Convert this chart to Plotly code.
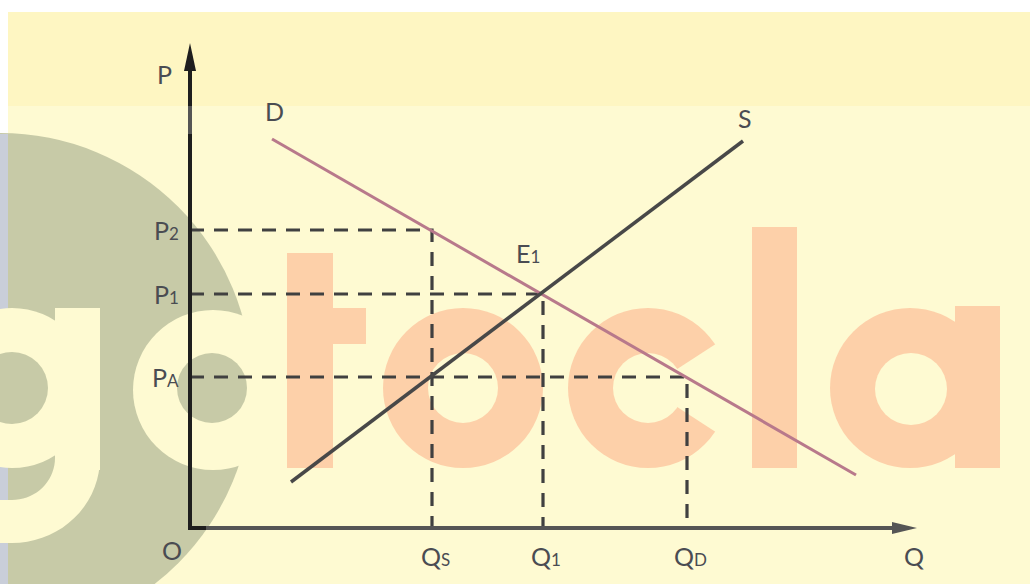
import math
import plotly.graph_objects as go

# ---------------- data (chart units: Q horizontal, P vertical) ----------------
price_labels = ["P<span style='font-size:17px'>2</span>",
                "P<span style='font-size:17px'>1</span>",
                "P<span style='font-size:17px'>A</span>"]
price_values = [29.8, 23.4, 15.1]
quantity_labels = ["Q<span style='font-size:17px'>S</span>",
                   "Q<span style='font-size:17px'>1</span>",
                   "Q<span style='font-size:17px'>D</span>"]
quantity_values = [24.2, 35.3, 49.7]
demand_q = [8.2, 66.6]
demand_p = [38.9, 5.3]
supply_q = [10.1, 55.3]
supply_p = [4.6, 38.7]
equilibrium_q = 35.3
equilibrium_p = 23.4

# ---------------- pixel <-> chart-unit helpers ----------------
W, H = 1030, 584
OX, OY, UNIT = 190, 528, 10.0


def qx(px):
    return (px - OX) / UNIT


def py(pyy):
    return (OY - pyy) / UNIT


FONT = "Lato, 'Open Sans', 'DejaVu Sans', sans-serif"
TXT = "#4a4c52"
CREAM = "#FEFAD2"
BAND = "#FEF6C2"
GRAYG = "#C7CAA7"
BLUEG = "#C9CED9"
ORANGE = "#FDD0A9"

shapes = []


def R(x0, y0, x1, y1, c, layer="below"):
    shapes.append(dict(type="rect", xref="x", yref="y", x0=qx(x0), x1=qx(x1),
                       y0=py(y1), y1=py(y0), fillcolor=c, line=dict(width=0), layer=layer))


def C(cx, cy, r, c):
    shapes.append(dict(type="circle", xref="x", yref="y", x0=qx(cx - r), x1=qx(cx + r),
                       y0=py(cy + r), y1=py(cy - r), fillcolor=c, line=dict(width=0), layer="below"))


def PATH(pts, c, layer="below"):
    p = "M " + " L ".join(f"{qx(a):.3f},{py(b):.3f}" for a, b in pts) + " Z"
    shapes.append(dict(type="path", xref="x", yref="y", path=p, fillcolor=c,
                       line=dict(width=0), layer=layer))


def LINE(x0, y0, x1, y1, c, w):
    shapes.append(dict(type="line", xref="x", yref="y", x0=qx(x0), y0=py(y0), x1=qx(x1), y1=py(y1),
                       line=dict(color=c, width=w), layer="above"))


# background panel + top band
R(8, 12, W, H, CREAM)
R(8, 12, W, 106, BAND)
# grey circle watermark
C(0, 385, 252, GRAYG)
R(0, 134, 8, H, BLUEG)
# "g" knocked out in cream
C(12, 388, 80, CREAM)
R(55, 308, 100, 470, CREAM)
desc = [(12 + 88 * math.cos(math.radians(t)), 458 + 85 * math.sin(math.radians(t))) for t in range(0, 91, 5)]
desc += [(-5, 543), (-5, 500)]
desc += [(12 + 43 * math.cos(math.radians(t)), 458 + 42 * math.sin(math.radians(t))) for t in range(90, -1, -5)]
PATH(desc, CREAM)
C(12, 388, 36, GRAYG)
# "o" knocked out in cream
C(213, 390, 80, CREAM)
C(212, 388, 35, GRAYG)
# orange "tocla"
R(287, 253, 333, 468, ORANGE)
R(333, 308, 366, 344, ORANGE)
C(463, 388, 80, ORANGE)
C(463, 388, 35, CREAM)
C(648, 388, 80, ORANGE)
C(648, 388, 35, CREAM)
a = math.radians(33)
PATH([(648, 388), (648 + 100 * math.cos(a), 388 - 100 * math.sin(a)), (748, 388),
      (648 + 100 * math.cos(a), 388 + 100 * math.sin(a))], CREAM)
R(752, 227, 797, 468, ORANGE)
C(910, 388, 80, ORANGE)
C(911, 389, 36, CREAM)
R(955, 306, 1000, 468, ORANGE)

# axes (decoration)
LINE(190, 530, 190, 68, "#555555", 4)
LINE(190, 530, 190, 134, "#1e1e1e", 4)
LINE(190, 106, 190, 68, "#1e1e1e", 4)
LINE(188, 528, 895, 528, "#555555", 4)
LINE(188, 528, 206, 528, "#1e1e1e", 4)
PATH([(190, 43), (196, 71), (184, 71)], "#1e1e1e", layer="above")
PATH([(917, 528), (892, 534), (892, 522)], "#555555", layer="above")

fig = go.Figure()

# guide lines (dashed)
for pv, qv in zip(price_values, quantity_values):
    fig.add_trace(go.Scatter(x=[0, qv, qv], y=[pv, pv, 0], mode="lines",
                             line=dict(color="#404040", width=3.2, dash="14px,10px"),
                             hoverinfo="skip", showlegend=False))
# demand and supply
fig.add_trace(go.Scatter(x=demand_q, y=demand_p, mode="lines",
                         line=dict(color="#B8798B", width=3), hoverinfo="skip", showlegend=False))
fig.add_trace(go.Scatter(x=supply_q, y=supply_p, mode="lines",
                         line=dict(color="#484848", width=3.5), hoverinfo="skip", showlegend=False))

ann = []


def T(text, x, y, xanchor="center", yanchor="middle", size=25, xshift=0, yshift=0):
    ann.append(dict(text=text, x=x, y=y, xref="x", yref="y", showarrow=False,
                    xanchor=xanchor, yanchor=yanchor, xshift=xshift, yshift=yshift,
                    font=dict(family=FONT, size=size, color=TXT)))


for lab, pv in zip(price_labels, price_values):
    T(lab, qx(181), pv, xanchor="right")
for lab, qv in zip(quantity_labels, quantity_values):
    T(lab, qv, py(556), xshift=3)
T("P", qx(164), py(74))
T("Q", qx(914), py(556))
T("O", qx(172), py(550))
T("D", demand_q[0] + 0.2, py(111))
T("S", supply_q[1] + 0.2, py(118))
T("E<span style='font-size:17px'>1</span>", equilibrium_q - 1.5, py(253))

fig.update_layout(
    width=W, height=H, margin=dict(l=0, r=0, t=0, b=0),
    paper_bgcolor="white", plot_bgcolor="white",
    xaxis=dict(range=[qx(0), qx(W)], visible=False, fixedrange=True),
    yaxis=dict(range=[py(H), py(0)], visible=False, fixedrange=True),
    shapes=shapes, annotations=ann, showlegend=False,
)

fig.write_html("out.html", config={"displayModeBar": False},
               post_script="document.body.style.margin='0px';document.body.style.overflow='hidden';")
